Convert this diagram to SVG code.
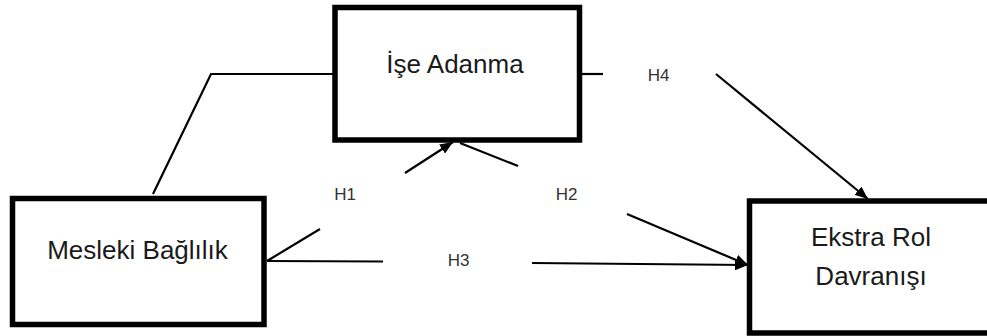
<svg xmlns="http://www.w3.org/2000/svg" width="987" height="336" viewBox="0 0 987 336">
<defs>
<style>
.box{fill:#fff;stroke:#000;stroke-width:5.5}
.lbl{font-family:"Liberation Sans",Arial,sans-serif;font-size:26px;fill:#1a1a1a;text-anchor:middle}
.h{font-family:"Liberation Sans",Arial,sans-serif;font-size:17px;fill:#333;text-anchor:middle}
.ln{fill:none;stroke:#000;stroke-width:2.2}
</style>
<marker id="ah" viewBox="0 0 12 10" refX="12" refY="5" markerWidth="13" markerHeight="11" markerUnits="userSpaceOnUse" orient="auto">
<path d="M0,0 L12,5 L0,10 z" fill="#000"/>
</marker>
</defs>
<rect width="987" height="336" fill="#fff"/>
<g id="connectors">
<polyline class="ln" points="335,74 211,74 153,194"/>
<line class="ln" x1="582" y1="74" x2="603" y2="74"/>
<line class="ln" x1="716" y1="74" x2="868" y2="199" marker-end="url(#ah)"/>
<line class="ln" x1="267" y1="261" x2="320" y2="229"/>
<line class="ln" x1="405" y1="173" x2="453" y2="142" marker-end="url(#ah)"/>
<line class="ln" x1="460" y1="143" x2="518" y2="166"/>
<line class="ln" x1="627" y1="214" x2="748" y2="265" marker-end="url(#ah)"/>
<line class="ln" x1="267" y1="261" x2="383" y2="261.5"/>
<line class="ln" x1="532" y1="263" x2="748" y2="265" marker-end="url(#ah)"/>
<text class="h" x="345" y="200">H1</text>
<text class="h" x="566.5" y="200">H2</text>
<text class="h" x="458.5" y="266">H3</text>
<text class="h" x="658.5" y="81">H4</text>
</g>
<g id="ise-adanma">
<rect class="box" x="335" y="7.5" width="244.5" height="132.5"/>
<text class="lbl" x="455" y="73">İşe Adanma</text>
</g>
<g id="mesleki-baglilik">
<rect class="box" x="12.5" y="198.5" width="251.5" height="126"/>
<text class="lbl" x="137.5" y="259">Mesleki Bağlılık</text>
</g>
<g id="ekstra-rol">
<rect class="box" x="749.5" y="201" width="250" height="132"/>
<text class="lbl" x="871" y="246">Ekstra Rol</text>
<text class="lbl" x="871" y="285">Davranışı</text>
</g>
</svg>
